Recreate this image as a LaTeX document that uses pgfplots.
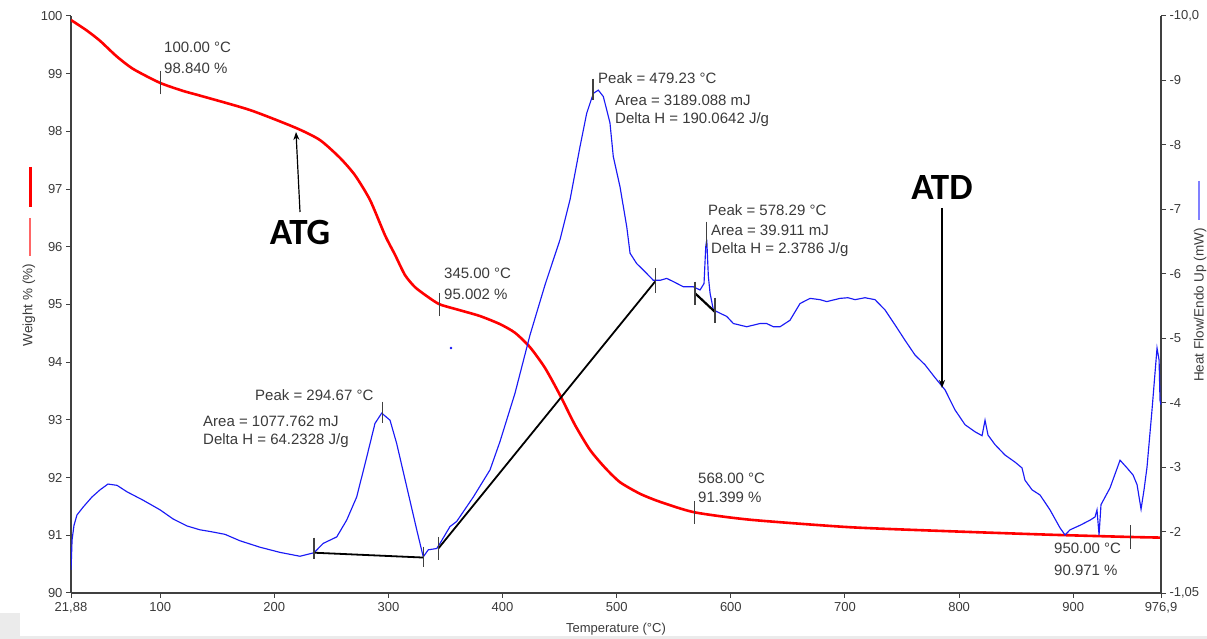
\documentclass[border=0pt]{standalone}
\usepackage{pgfplots}
\pgfplotsset{compat=1.18}
\usepackage{fontspec}
\setmainfont{Liberation Sans}
\newfontfamily\calfont{Carlito}
\usetikzlibrary{arrows.meta}
\definecolor{axgray}{HTML}{404040}
\definecolor{txtgray}{HTML}{3A3A3A}
\definecolor{tgared}{HTML}{FF0000}
\definecolor{dtablue}{HTML}{1A1AF5}
\begin{document}
\begin{tikzpicture}[x=1pt,y=1pt]
\path[use as bounding box] (0,0) rectangle (1207,639);
\fill[black!8] (0,0) rectangle (1207,3);
\fill[black!8] (0,2) rectangle (20,26);
\pgfplotsset{
  common/.style={
    at={(71pt,46pt)}, anchor=south west, scale only axis,
    width=1090pt, height=577pt,
    xmin=21.88, xmax=976.9,
    axis line style={-, draw=axgray, line width=1.3pt},
    tick style={draw=axgray, line width=1pt},
    major tick length=5pt, tick align=outside,
    ticklabel style={font=\fontsize{13}{15}\selectfont, text=txtgray},
    /pgf/number format/assume math mode=true,
  }
}
% ---------- TGA (left axis) ----------
\begin{axis}[common,
  ymin=90, ymax=100,
  axis x line*=bottom, axis y line*=left,
  xtick={21.88,100,200,300,400,500,600,700,800,900,976.9},
  xticklabels={{21,88},100,200,300,400,500,600,700,800,900,{976,9}},
  ytick={90,91,92,93,94,95,96,97,98,99,100},
  yticklabels={90,91,92,93,94,95,96,97,98,99,100},
  xticklabel style={yshift=-1pt},
]
\addplot[tgared, line width=2.6pt, smooth, tension=0.4] coordinates {
(21.88,99.93) (35.6,99.75) (47.3,99.57) (61.9,99.30) (76.5,99.08) (100,98.84)
(120.3,98.70) (134.9,98.62) (178.7,98.37) (219.0,98.06) (240.0,97.85) (257.6,97.54)
(270.7,97.24) (283.9,96.81) (297.0,96.20) (305.8,95.86) (314.5,95.51) (323.3,95.30)
(334.7,95.13) (345,95.002) (362.7,94.90) (380.2,94.80) (397.7,94.66) (410.9,94.51)
(424.0,94.26) (437.2,93.90) (450.3,93.43) (463.5,92.91) (476.6,92.48) (489.8,92.17)
(502.9,91.92) (520.4,91.72) (538.0,91.58) (568,91.399) (616.8,91.27) (704.4,91.14)
(792.0,91.07) (879.7,91.01) (950,90.971) (976.9,90.96)
};
\draw[axgray, line width=1.1pt] (axis cs:100,98.64) -- (axis cs:100,99.04);
\draw[axgray, line width=1.1pt] (axis cs:345,94.80) -- (axis cs:345,95.20);
\draw[axgray, line width=1.1pt] (axis cs:568,91.20) -- (axis cs:568,91.60);
\draw[axgray, line width=1.1pt] (axis cs:950,90.77) -- (axis cs:950,91.17);
\end{axis}
% ---------- DTA (right axis) ----------
\begin{axis}[common,
  ymin=-10, ymax=-1.05, y dir=reverse,
  axis x line=none, axis y line*=right,
  ytick={-10,-9,-8,-7,-6,-5,-4,-3,-2,-1.05},
  yticklabels={{-10,0},-9,-8,-7,-6,-5,-4,-3,-2,{-1,05}},
]
\addplot[dtablue, line width=1.15pt] coordinates {
(21.88,-1.41) (22.3,-1.60) (22.8,-1.87) (24.5,-2.10) (27.1,-2.26) (32.4,-2.38)
(40.3,-2.54) (47.3,-2.65) (54.3,-2.74) (62.2,-2.72) (70.9,-2.62) (85.0,-2.49)
(99.9,-2.34) (111.2,-2.20) (123.5,-2.09) (134.9,-2.03) (145,-2.00) (156.8,-1.96)
(169.96,-1.86) (187.5,-1.76) (205.0,-1.68) (222.5,-1.62) (234.8,-1.675)
(242.9,-1.82) (254.7,-1.92) (263.4,-2.18) (272.2,-2.54) (281.0,-3.16) (288.2,-3.68)
(294.1,-3.84) (301.4,-3.73) (307.2,-3.37) (316.0,-2.70) (324.8,-2.03) (330.5,-1.61)
(334.9,-1.72) (342.3,-1.74) (345.2,-1.82) (353.9,-2.08) (359.8,-2.16) (374.4,-2.54)
(389.0,-2.96) (397.75,-3.40) (410.9,-4.15) (424.0,-5.05) (437.2,-5.83) (450.3,-6.53)
(459.1,-7.15) (467.8,-7.97) (473.7,-8.49) (479.5,-8.80) (483.9,-8.85) (488.3,-8.75)
(494.1,-8.34) (497.0,-7.82) (502.9,-7.35) (508.8,-6.73) (511.7,-6.32) (517.5,-6.16)
(523.3,-6.06) (532.1,-5.90) (538.0,-5.90) (543.8,-5.93) (549.6,-5.88) (558.4,-5.80)
(567.1,-5.80) (573.0,-5.75) (576.5,-5.85) (578.0,-6.42) (578.9,-6.53) (580.3,-5.96)
(581.8,-5.70) (584.7,-5.44) (590.5,-5.39) (596.4,-5.34) (602.2,-5.23) (613.9,-5.18)
(625.6,-5.23) (631.4,-5.23) (637.2,-5.18) (643.1,-5.18) (651.8,-5.28) (660.6,-5.54)
(669.4,-5.62) (678.1,-5.60) (684.0,-5.57) (695.7,-5.62) (702.6,-5.63) (708.8,-5.60)
(717.5,-5.63) (726.3,-5.60) (735.1,-5.44) (743.8,-5.21) (752.6,-4.97) (761.4,-4.74)
(770.1,-4.59) (778.9,-4.39) (787.7,-4.20) (796.4,-3.89) (805.2,-3.66) (814.0,-3.55)
(820.1,-3.49) (822.7,-3.73) (825.3,-3.50) (831.5,-3.35) (840.2,-3.19) (849.0,-3.08)
(855.1,-2.99) (857.7,-2.80) (863.9,-2.65) (870.9,-2.57) (879.6,-2.34) (888.4,-2.06)
(892.8,-1.95) (897.2,-2.03) (905.9,-2.10) (914.7,-2.18) (919.1,-2.23) (920.8,-2.34)
(922.6,-1.95) (924.3,-2.42) (932.2,-2.68) (941.0,-3.11) (947.1,-2.99) (952.4,-2.88)
(955.9,-2.73) (959.4,-2.35) (962.0,-2.65) (964.6,-3.00) (969.0,-3.89) (973.4,-4.85)
(975.2,-4.66) (976.0,-4.04) (976.9,-3.97)
};
\addplot[only marks, mark=*, mark size=1pt, dtablue] coordinates {(354.8,-4.85)};
% baselines
\addplot[black, line width=1.8pt] coordinates {(234.8,-1.675) (330.5,-1.60)};
\addplot[black, line width=1.8pt] coordinates {(343.7,-1.74) (533.6,-5.88)};
\addplot[black, line width=2.2pt] coordinates {(568.6,-5.70) (586.1,-5.41)};
% tick marks on DTA
\draw[axgray, line width=1.1pt] (axis cs:234.8,-1.91) -- (axis cs:234.8,-1.57);
\draw[axgray, line width=1.1pt] (axis cs:330.5,-1.77) -- (axis cs:330.5,-1.46);
\draw[axgray, line width=1.1pt] (axis cs:343.7,-1.92) -- (axis cs:343.7,-1.56);
\draw[axgray, line width=1.1pt] (axis cs:294.67,-4.02) -- (axis cs:294.67,-3.68);
\draw[axgray, line width=1.1pt] (axis cs:479.23,-9.03) -- (axis cs:479.23,-8.70);
\draw[axgray, line width=1.1pt] (axis cs:533.6,-6.09) -- (axis cs:533.6,-5.70);
\draw[axgray, line width=1.1pt] (axis cs:568.6,-5.88) -- (axis cs:568.6,-5.52);
\draw[axgray, line width=1.1pt] (axis cs:586.1,-5.63) -- (axis cs:586.1,-5.24);
\draw[axgray, line width=1.1pt] (axis cs:578.29,-6.81) -- (axis cs:578.29,-6.42);
\end{axis}
% ---------- labels ----------
\node[font=\fontsize{13}{15}\selectfont, text=txtgray] at (616,10) {Temperature (°C)};
\node[font=\fontsize{13.5}{15}\selectfont, text=txtgray, rotate=90] at (29,334) {Weight \% (\%)};
\node[font=\fontsize{13.5}{15}\selectfont, text=txtgray, rotate=90] at (1200,334) {Heat Flow/Endo Up (mW)};
\draw[tgared, line width=3pt] (30,472) -- (30,432);
\draw[tgared!60, line width=1.6pt] (30,421) -- (30,383);
\draw[blue!50, line width=2pt] (1199,458) -- (1199,419);
% ---------- annotations ----------
\begin{scope}[every node/.style={font=\fontsize{15}{17}\selectfont, text=txtgray, anchor=west, inner sep=0pt}]
\node at (164,592) {100.00 °C};
\node at (164,571) {98.840 \%};
\node at (444,366) {345.00 °C};
\node at (444,345) {95.002 \%};
\node at (698,161) {568.00 °C};
\node at (698,142) {91.399 \%};
\node at (1054,91) {950.00 °C};
\node at (1054,69) {90.971 \%};
\node at (255,244) {Peak = 294.67 °C};
\node at (203,218) {Area = 1077.762 mJ};
\node at (203,198) {Delta H = 64.2328 J/g};
\node at (598,561) {Peak = 479.23 °C};
\node at (615,539) {Area = 3189.088 mJ};
\node at (615,519) {Delta H = 190.0642 J/g};
\node at (708,429) {Peak = 578.29 °C};
\node at (711,409) {Area = 39.911 mJ};
\node at (711,389) {Delta H = 2.3786 J/g};
\end{scope}
\node[font=\calfont\bfseries\fontsize{37}{40}\selectfont] at (300,406) {ATG};
\node[font=\calfont\bfseries\fontsize{37}{40}\selectfont] at (942,451) {ATD};
\draw[black, line width=1.2pt, -{Stealth[length=8pt,width=6pt]}] (300,427) -- (296,507);
\draw[black, line width=1.2pt, -{Stealth[length=8pt,width=6pt]}] (942,431) -- (942,251);
\end{tikzpicture}
\end{document}
